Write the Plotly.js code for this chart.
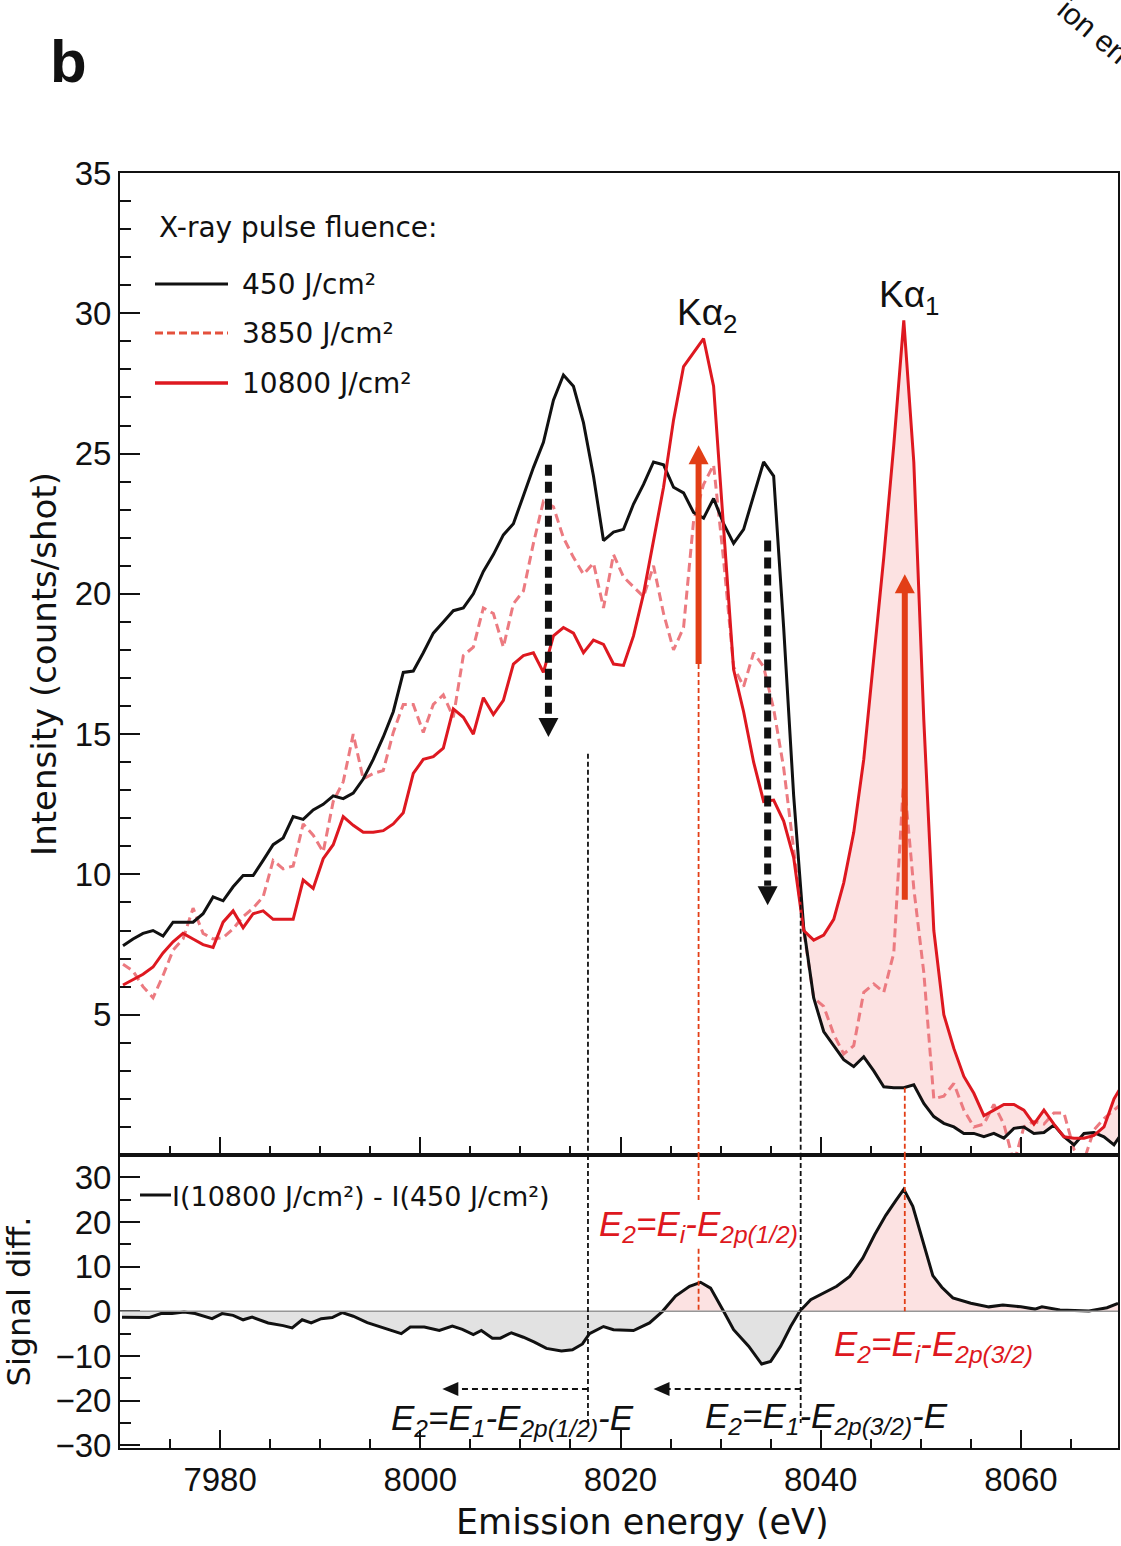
<!DOCTYPE html>
<html><head><meta charset="utf-8">
<script src="https://cdn.plot.ly/plotly-3.0.1.min.js"></script>
<style>html,body{margin:0;padding:0;background:#fff;}#chart{width:1121px;height:1546px;}</style>
</head><body><div id="chart"></div>
<script>
// ---------------- data ----------------
const energy = [
7970.3,7971.3,7972.3,7973.3,7974.3,7975.3,7976.3,7977.3,7978.3,7979.3,
7980.3,7981.3,7982.3,7983.3,7984.3,7985.3,7986.3,7987.3,7988.3,7989.3,
7990.3,7991.3,7992.3,7993.3,7994.3,7995.3,7996.3,7997.3,7998.3,7999.3,
8000.3,8001.3,8002.3,8003.3,8004.3,8005.3,8006.3,8007.3,8008.3,8009.3,
8010.3,8011.3,8012.3,8013.3,8014.3,8015.3,8016.3,8017.3,8018.3,8019.3,
8020.3,8021.3,8022.3,8023.3,8024.3,8025.3,8026.3,8027.3,8028.3,8029.3,
8030.3,8031.3,8032.3,8033.3,8034.3,8035.3,8036.3,8037.3,8038.3,8039.3,
8040.3,8041.3,8042.3,8043.3,8044.3,8045.3,8046.3,8047.3,8048.3,8049.3,
8050.3,8051.3,8052.3,8053.3,8054.3,8055.3,8056.3,8057.3,8058.3,8059.3,
8060.3,8061.3,8062.3,8063.3,8064.3,8065.3,8066.3,8067.3,8068.3,8069.3,
8070.3];

const intensity450 = [
7.46,7.7,7.9,8.0,7.8,8.3,8.3,8.3,8.6,9.2,
9.06,9.56,9.96,9.96,10.5,11.06,11.3,12.06,11.96,12.3,
12.5,12.8,12.7,12.9,13.4,14.1,14.9,15.8,17.2,17.25,
17.9,18.6,19.0,19.4,19.5,20.0,20.8,21.4,22.1,22.5,
23.5,24.5,25.4,26.9,27.8,27.4,26.1,24.2,21.9,22.2,
22.3,23.2,23.9,24.7,24.6,23.8,23.6,22.9,22.7,23.4,
22.5,21.8,22.3,23.5,24.7,24.2,18.8,12.8,8.1,5.6,
4.4,3.9,3.4,3.15,3.5,3.0,2.43,2.4,2.4,2.5,
1.84,1.37,1.13,1.0,0.77,0.77,0.65,0.77,0.6,0.95,
1.0,0.77,0.8,1.07,0.65,0.36,0.77,0.8,0.65,0.36,
0.9];

const intensity3850 = [
6.8,6.56,6.0,5.6,6.4,7.3,7.7,8.8,7.9,7.7,
7.75,8.06,8.5,8.8,9.2,10.5,10.2,10.3,11.8,11.4,
10.8,12.6,13.3,15.0,13.4,13.6,13.7,15.06,16.06,16.06,
15.06,16.06,16.4,15.6,17.8,18.1,19.5,19.3,18.1,19.65,
20.1,21.8,23.3,23.1,22.0,21.3,20.7,21.1,19.5,21.4,
20.6,20.25,19.9,21.0,19.3,18.0,18.8,22.6,23.9,24.6,
21.2,17.4,16.7,17.9,17.4,15.9,13.8,10.9,8.0,5.6,
5.3,4.3,3.6,3.9,5.8,6.1,5.8,7.2,13.5,9.5,
6.5,2.0,2.1,2.55,1.6,1.0,1.1,1.8,1.1,-0.3,
1.0,1.2,1.1,1.5,1.5,0.2,-0.2,0.9,1.3,1.6,
1.9];

const intensity10800 = [
6.06,6.25,6.44,6.7,7.2,7.6,7.9,7.7,7.5,7.4,
8.3,8.7,8.1,8.6,8.7,8.4,8.4,8.4,9.8,9.5,
10.56,11.06,12.06,11.75,11.5,11.5,11.56,11.8,12.2,13.6,
14.1,14.2,14.5,15.9,15.6,15.0,16.3,15.7,16.2,17.5,
17.8,17.9,17.2,18.5,18.8,18.6,17.9,18.35,18.2,17.5,
17.45,18.5,20.0,21.9,23.8,26.2,28.1,28.6,29.1,27.4,
22.5,17.3,15.8,14.0,12.6,12.65,11.9,10.6,8.0,7.66,
7.84,8.4,9.7,11.5,14.1,17.6,21.3,25.3,29.75,24.7,
15.5,8.0,5.0,3.8,2.8,2.2,1.4,1.6,1.8,1.8,
1.6,1.1,1.6,1.1,0.65,0.6,0.6,0.7,1.0,2.0,
2.6];

const diffEnergy = [
7970.2,7971.8,7972.9,7974.1,7975.2,7976.4,7977.5,7979.2,7980.2,7981.3,
7982.3,7983.2,7984.8,7986.3,7987.2,7988.2,7989.1,7990.1,7991.2,7992.2,
7993.3,7994.7,7996.2,7998.1,7999.0,8000.4,8001.9,8003.2,8004.2,8005.3,
8006.1,8007.2,8008.0,8009.1,8010.3,8011.4,8012.6,8014.1,8015.2,8016.2,
8016.9,8018.3,8019.3,8021.3,8022.9,8024.2,8025.5,8026.9,8028.0,8029.0,
8030.3,8031.3,8032.8,8034.1,8035.0,8036.0,8037.0,8037.9,8039.0,8040.3,
8041.6,8042.9,8044.2,8045.4,8046.5,8047.5,8048.3,8049.2,8050.2,8051.2,
8052.1,8053.2,8055.0,8056.8,8058.2,8060.0,8061.4,8062.1,8063.9,8066.8,
8068.6,8069.7];

const diffSignal = [
-1.3,-1.4,-1.4,-0.5,-0.5,-0.15,-0.5,-1.65,-0.5,-0.9,
-1.9,-1.3,-2.6,-3.2,-3.7,-1.9,-2.6,-1.65,-1.4,-0.3,
-1.1,-2.55,-3.7,-5.0,-3.5,-3.5,-4.3,-3.3,-4.05,-5.2,
-4.3,-6.0,-6.0,-4.8,-5.8,-6.9,-8.3,-8.9,-8.6,-7.3,
-5.0,-3.4,-4.1,-4.3,-2.6,0,3.4,5.6,6.5,5.2,
0,-4.1,-7.8,-11.8,-11.2,-7.8,-3.4,0,2.6,4.1,
5.6,7.8,11.9,17.2,21.5,24.8,27.3,23.5,15.5,8.0,
5.4,3.0,1.8,1.0,1.4,1.0,0.5,1.0,0.3,0.1,
0.8,1.8];

const topTicks = [5, 10, 15, 20, 25, 30, 35];
const bottomTicks = [-30, -20, -10, 0, 10, 20, 30];
const energyTicks = [7980, 8000, 8020, 8040, 8060];

const seriesNames = ['450 J/cm²', '3850 J/cm²', '10800 J/cm²'];
const diffName = 'I(10800 J/cm²) - I(450 J/cm²)';
const legendTitle = 'X-ray pulse fluence:';

// ---------------- styling ----------------
const BLACK = '#111111';
const RED = 'rgb(222,24,32)';
const PINK = 'rgb(236,122,128)';
const ARROW_RED = 'rgb(226,62,22)';
const FILL_PINK = 'rgb(252,226,226)';
const FILL_GRAY = 'rgb(226,226,226)';
const SANS = 'DejaVu Sans, Liberation Sans, sans-serif';
const ARIAL = 'Liberation Sans, Arial, sans-serif';
const TICKFONT = 'Liberation Sans, Arial, sans-serif';

// pixel frame of the plotting area (for paper-referenced decorations)
const W = 1121, H = 1546;
const ML = 120, MR = 3, MT = 173, MB = 98;
const PL = ML, PR = W - MR, PT = MT, PB = H - MB;
const SPLIT = 1155; // pixel row where the two panels meet
const splitFrac = (PB - SPLIT) / (PB - PT);
const px = x => (x - PL) / (PR - PL);
const py = y => (PB - y) / (PB - PT);

// fill region between the 450 and 10800 curves (after they cross)
const fillStart = energy.findIndex(e => e >= 8038);
const diffNeg = diffSignal.map(v => Math.min(v, 0));
const diffPos = diffSignal.map(v => Math.max(v, 0));

const traces = [
  {x: energy.slice(fillStart), y: intensity450.slice(fillStart), xaxis:'x', yaxis:'y', mode:'lines',
   line:{width:0, color:BLACK}, showlegend:false, hoverinfo:'skip'},
  {x: energy.slice(fillStart), y: intensity10800.slice(fillStart), xaxis:'x', yaxis:'y', mode:'lines',
   fill:'tonexty', fillcolor:FILL_PINK, line:{width:0, color:RED}, showlegend:false, hoverinfo:'skip'},
  {x: energy, y: intensity3850, xaxis:'x', yaxis:'y', mode:'lines', name: seriesNames[1],
   line:{color:PINK, width:3, dash:'9px,5px'}, showlegend:false},
  {x: energy, y: intensity450, xaxis:'x', yaxis:'y', mode:'lines', name: seriesNames[0],
   line:{color:BLACK, width:3}, showlegend:false},
  {x: energy, y: intensity10800, xaxis:'x', yaxis:'y', mode:'lines', name: seriesNames[2],
   line:{color:RED, width:3}, showlegend:false},
  {x: diffEnergy, y: diffNeg, xaxis:'x2', yaxis:'y2', mode:'lines', fill:'tozeroy', fillcolor:FILL_GRAY,
   line:{width:0}, showlegend:false, hoverinfo:'skip'},
  {x: diffEnergy, y: diffPos, xaxis:'x2', yaxis:'y2', mode:'lines', fill:'tozeroy', fillcolor:FILL_PINK,
   line:{width:0}, showlegend:false, hoverinfo:'skip'},
  {x: diffEnergy, y: diffSignal, xaxis:'x2', yaxis:'y2', mode:'lines', name: diffName,
   line:{color:BLACK, width:3}, showlegend:false}
];

const XR = [7970, 8069.7];
const axisCommon = {showline:true, linecolor:BLACK, linewidth:2, mirror:true, showgrid:false, zeroline:false,
  ticks:'inside', tickcolor:BLACK, tickwidth:2};
const minorTicks = (tick0, dtick, len) => ({ticks:'inside', ticklen:len, tickwidth:2, tickcolor:BLACK, tickmode:'linear', tick0, dtick});

const layout = {
  width: W, height: H,
  margin: {l:ML, r:MR, t:MT, b:MB, pad:0},
  paper_bgcolor:'#fff', plot_bgcolor:'rgba(0,0,0,0)',
  font: {family: ARIAL, color: BLACK},
  showlegend:false,
  xaxis: Object.assign({}, axisCommon, {anchor:'y', range:XR, showticklabels:false,
    tickmode:'array', tickvals:energyTicks, ticklen:18, minor:minorTicks(7970, 5, 9)}),
  xaxis2: Object.assign({}, axisCommon, {anchor:'y2', range:XR, matches:'x',
    tickmode:'array', tickvals:energyTicks, ticktext:energyTicks.map(String), ticklen:18, ticklabelstandoff:1,
    tickfont:{family:TICKFONT, size:33, color:BLACK}, minor:minorTicks(7970, 5, 9)}),
  yaxis: Object.assign({}, axisCommon, {anchor:'x', domain:[splitFrac, 1], range:[0, 35],
    tickmode:'array', tickvals:topTicks, ticktext:topTicks.map(String), ticklen:20,
    tickfont:{family:TICKFONT, size:33, color:BLACK},
    title:{text:'Intensity (counts/shot)', font:{family:SANS, size:34, color:BLACK}, standoff:8},
    minor:minorTicks(0, 1, 11)}),
  yaxis2: Object.assign({}, axisCommon, {anchor:'x2', domain:[0, splitFrac], range:[-30.6, 35],
    tickmode:'array', tickvals:bottomTicks, ticktext:bottomTicks.map(v => v < 0 ? '\u2212' + Math.abs(v) : String(v)), ticklen:20,
    tickfont:{family:TICKFONT, size:33, color:BLACK},
    title:{text:'Signal diff.', font:{family:SANS, size:32, color:BLACK}, standoff:22},
    minor:minorTicks(0, 5, 11)}),
  shapes: [], annotations: []
};

const S = layout.shapes, A = layout.annotations;

// zero line of the difference panel
S.push({type:'line', xref:'x2', yref:'y2', x0:XR[0], x1:XR[1], y0:0, y1:0, line:{color:'rgb(150,150,150)', width:1.5}, layer:'above'});

// thin dashed guide lines
const guide = (x, yref, y0, y1, color) => S.push({type:'line', xref: yref === 'y' ? 'x' : 'x2', yref, x0:x, x1:x, y0, y1,
  line:{color, width:1.8, dash:'5px,3px'}, layer:'above'});
guide(8016.75, 'y', 14.3, 0, BLACK);
guide(8016.75, 'y2', 35, -25, BLACK);
guide(8038.0, 'y', 9.2, 0, BLACK);
guide(8038.0, 'y2', 35, -25, BLACK);
guide(8027.8, 'y', 17.5, 0, ARROW_RED);
guide(8027.8, 'y2', 35, 24.6, ARROW_RED);
guide(8027.8, 'y2', 14.0, 0, ARROW_RED);
guide(8048.4, 'y', 2.4, 0, ARROW_RED);
guide(8048.4, 'y2', 35, 0, ARROW_RED);

// big vertical arrows in the top panel
const head = (xref, yref, x, y, path, color) => S.push({type:'path', xref, yref, xsizemode:'pixel', ysizemode:'pixel',
  xanchor:x, yanchor:y, path, fillcolor:color, line:{width:0}, layer:'above'});
const DOWN = 'M -10 19 L 10 19 L 0 0 Z', UP = 'M -10 -19 L 10 -19 L 0 0 Z', LEFT = 'M 16 -7 L 16 7 L 0 0 Z';
S.push({type:'line', xref:'x', yref:'y', x0:8012.8, x1:8012.8, y0:24.6, y1:15.6, line:{color:BLACK, width:7, dash:'11px,6px'}, layer:'above'});
head('x','y', 8012.8, 14.9, DOWN, BLACK);
S.push({type:'line', xref:'x', yref:'y', x0:8034.7, x1:8034.7, y0:21.9, y1:9.6, line:{color:BLACK, width:7, dash:'11px,6px'}, layer:'above'});
head('x','y', 8034.7, 8.9, DOWN, BLACK);
S.push({type:'line', xref:'x', yref:'y', x0:8027.8, x1:8027.8, y0:17.5, y1:24.7, line:{color:ARROW_RED, width:6}, layer:'above'});
head('x','y', 8027.8, 25.3, UP, ARROW_RED);
S.push({type:'line', xref:'x', yref:'y', x0:8048.4, x1:8048.4, y0:9.1, y1:20.1, line:{color:ARROW_RED, width:6}, layer:'above'});
head('x','y', 8048.4, 20.7, UP, ARROW_RED);

// horizontal dashed arrows in lower panel
S.push({type:'line', xref:'x2', yref:'y2', x0:8016.75, x1:8003.6, y0:-17.4, y1:-17.4, line:{color:BLACK, width:2, dash:'6px,4px'}, layer:'above'});
head('x2','y2', 8002.2, -17.4, LEFT, BLACK);
S.push({type:'line', xref:'x2', yref:'y2', x0:8038.0, x1:8024.7, y0:-17.4, y1:-17.4, line:{color:BLACK, width:2, dash:'6px,4px'}, layer:'above'});
head('x2','y2', 8023.3, -17.4, LEFT, BLACK);

// custom legend (top panel)
const legLine = (yPix, color, dash, w) => S.push({type:'line', xref:'paper', yref:'paper', x0:px(155), x1:px(228), y0:py(yPix), y1:py(yPix),
  line:{color, width:w, dash}});
legLine(284, BLACK, 'solid', 3);
legLine(333, 'rgb(228,80,60)', '8px,4px', 3);
legLine(383, RED, 'solid', 3.5);
const txt = (text, xPix, yPix, opts) => A.push(Object.assign({text, xref:'paper', yref:'paper', x:px(xPix), y:py(yPix),
  showarrow:false, xanchor:'left', yanchor:'middle', font:{family:SANS, size:28, color:BLACK}}, opts || {}));
txt(legendTitle, 157, 228);
txt(seriesNames[0], 240, 284);
txt(seriesNames[1], 240, 333);
txt(seriesNames[2], 240, 383);

// lower-panel legend
S.push({type:'line', xref:'paper', yref:'paper', x0:px(140), x1:px(171), y0:py(1195), y1:py(1195), line:{color:BLACK, width:3}});
txt(diffName, 170, 1196, {font:{family:SANS, size:27, color:BLACK}});

// peak labels
txt('Kα<sub>2</sub>', 707, 315, {xanchor:'center', font:{family:ARIAL, size:37, color:BLACK}});
txt('Kα<sub>1</sub>', 909, 297, {xanchor:'center', font:{family:ARIAL, size:37, color:BLACK}});

// equation labels
txt('<i>E<sub>2</sub>=E<sub>i</sub>-E<sub>2p(1/2)</sub></i>', 698, 1226, {xanchor:'center', font:{family:ARIAL, size:35, color:RED}});
txt('<i>E<sub>2</sub>=E<sub>i</sub>-E<sub>2p(3/2)</sub></i>', 933, 1346, {xanchor:'center', font:{family:ARIAL, size:35, color:RED}});
txt('<i>E<sub>2</sub>=E<sub>1</sub>-E<sub>2p(1/2)</sub>-E</i>', 512, 1420, {xanchor:'center', font:{family:ARIAL, size:35, color:BLACK}});
txt('<i>E<sub>2</sub>=E<sub>1</sub>-E<sub>2p(3/2)</sub>-E</i>', 826, 1418, {xanchor:'center', font:{family:ARIAL, size:35, color:BLACK}});

// x-axis title
txt('Emission energy (eV)', 642, 1522, {xanchor:'center', font:{family:SANS, size:35, color:BLACK}});

// panel letter and cropped neighbour text
txt('<b>b</b>', 68, 62, {xanchor:'center', font:{family:ARIAL, size:60, color:BLACK}});
txt('ion ene', 1100, 36, {xanchor:'center', textangle:40, font:{family:ARIAL, size:30, color:BLACK}});

Plotly.newPlot('chart', traces, layout, {staticPlot:true, displayModeBar:false});
</script></body></html>
